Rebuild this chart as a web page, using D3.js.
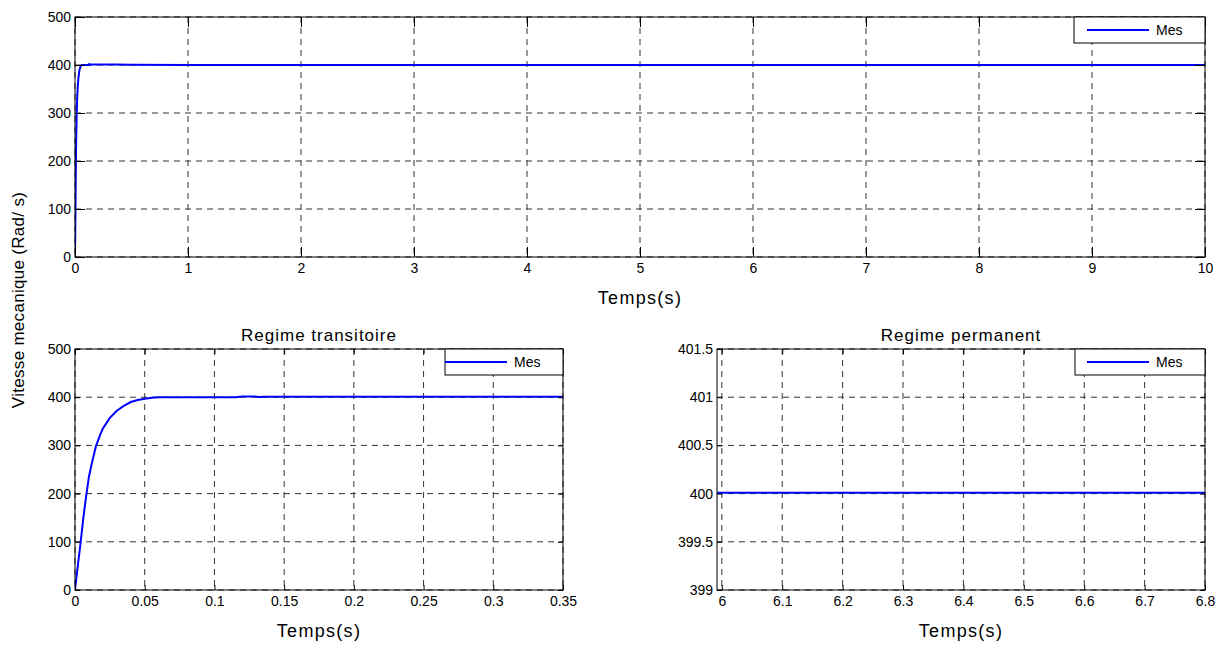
<!DOCTYPE html>
<html>
<head>
<meta charset="utf-8">
<script src="https://cdn.jsdelivr.net/npm/d3@7"></script>
<style>
  body { margin: 0; background: #fff; }
  svg { font-family: "Liberation Sans", Arial, sans-serif; }
  .tick text { font-size: 14px; fill: #000; }
  .domain { display: none; }
</style>
</head>
<body>
<div class="canvas"></div>
<script>
      // transient response (time in s, speed in rad/s)
      const tTrans = [0, 0.002, 0.004, 0.006, 0.008, 0.010, 0.012, 0.015, 0.018, 0.020, 0.025, 0.030,
                      0.035, 0.040, 0.045, 0.050, 0.055, 0.060, 0.080, 0.100, 0.115, 0.120, 0.125,
                      0.129, 0.132, 0.136, 0.150, 0.200, 0.250, 0.300, 0.350];
      const vTrans = [0, 50, 98, 150, 195, 235, 262, 298, 322, 335, 357, 372,
                      382, 390, 394, 397, 399, 400, 400, 400, 400, 401.5, 401.5,
                      401.5, 400.2, 401, 401, 401, 401, 401, 401];

      // steady state response
      const tPerm = [0, 0.5, 1, 2, 3, 4, 5, 5.99, 6, 6.2, 6.4, 6.6, 6.8, 7, 8, 9, 10];
      const vPerm = [401, 400.5, 400.2, 400.05, 400.02, 400.01, 400.01, 400.01, 400.01, 400.01,
                     400.01, 400.01, 400.01, 400.01, 400.01, 400.01, 400.01];

      // tick labels
      const xTicksFull = [0, 1, 2, 3, 4, 5, 6, 7, 8, 9, 10];
      const yTicksFull = [0, 100, 200, 300, 400, 500];
      const xTicksTrans = [0, 0.05, 0.1, 0.15, 0.2, 0.25, 0.3, 0.35];
      const xTicksPerm = [6, 6.1, 6.2, 6.3, 6.4, 6.5, 6.6, 6.7, 6.8];
      const yTicksPerm = [399, 399.5, 400, 400.5, 401, 401.5];

      const legendLabel = 'Mes';

      const svg = d3.select('.canvas')
        .append('svg')
        .attr('width', 1231)
        .attr('height', 645);

      // full record = transient then steady part
      const fullData = tTrans.map((t, i) => ({ t: t, v: vTrans[i] }))
        .concat(tPerm.filter(t => t > 0.35).map(t => ({ t: t, v: vPerm[tPerm.indexOf(t)] })));
      const transData = tTrans.map((t, i) => ({ t: t, v: vTrans[i] }));
      const permData = tPerm.map((t, i) => ({ t: t, v: vPerm[i] }));

      const panel = (cfg) => {
        const w = cfg.right - cfg.left;
        const h = cfg.bottom - cfg.top;

        const g = svg.append('g')
          .attr('transform', `translate(${cfg.left}, ${cfg.top})`);

        const x = d3.scaleLinear().domain(cfg.xdom).range([0, w]);
        const y = d3.scaleLinear().domain(cfg.ydom).range([h, 0]);

        // grid
        g.append('g').selectAll('line')
          .data(cfg.xticks)
          .enter().append('line')
            .attr('x1', d => x(d)).attr('x2', d => x(d))
            .attr('y1', 0).attr('y2', h)
            .attr('stroke', '#333')
            .attr('stroke-width', 1)
            .attr('stroke-dasharray', '6,5');

        g.append('g').selectAll('line')
          .data(cfg.yticks)
          .enter().append('line')
            .attr('x1', 0).attr('x2', w)
            .attr('y1', d => y(d)).attr('y2', d => y(d))
            .attr('stroke', '#333')
            .attr('stroke-width', 1)
            .attr('stroke-dasharray', '6,5');

        // data line
        const line = d3.line()
          .x(d => x(d.t))
          .y(d => y(d.v));

        const clipId = 'clip' + cfg.id;
        g.append('clipPath').attr('id', clipId)
          .append('rect').attr('width', w).attr('height', h);

        g.append('path')
          .datum(cfg.data)
          .attr('clip-path', `url(#${clipId})`)
          .attr('fill', 'none')
          .attr('stroke', '#0000ff')
          .attr('stroke-width', 2)
          .attr('d', line);

        // axes (ticks inside, matlab style)
        const ts = cfg.tick;
        g.append('g')
          .attr('transform', `translate(0, ${h})`)
          .call(d3.axisBottom(x).tickValues(cfg.xticks).tickSize(-ts).tickPadding(6).tickFormat(d => d));
        g.append('g')
          .call(d3.axisTop(x).tickValues(cfg.xticks).tickSize(-ts).tickFormat(''));
        g.append('g')
          .call(d3.axisLeft(y).tickValues(cfg.yticks).tickSize(-ts).tickPadding(4).tickFormat(d => d));
        g.append('g')
          .attr('transform', `translate(${w}, 0)`)
          .call(d3.axisRight(y).tickValues(cfg.yticks).tickSize(-ts).tickFormat(''));

        g.selectAll('.tick line').attr('stroke', '#000');

        // box
        g.append('rect')
          .attr('width', w).attr('height', h)
          .attr('fill', 'none')
          .attr('stroke', '#000')
          .attr('stroke-width', 1);

        // x label
        g.append('text')
          .attr('x', w / 2)
          .attr('y', h + 47)
          .attr('text-anchor', 'middle')
          .attr('font-size', 18)
          .attr('letter-spacing', 1.3)
          .text('Temps(s)');

        // title
        if (cfg.title) {
          g.append('text')
            .attr('x', w / 2)
            .attr('y', -8)
            .attr('text-anchor', 'middle')
            .attr('font-size', 17)
            .attr('letter-spacing', 1)
            .text(cfg.title);
        }

        // legend
        const lg = g.append('g')
          .attr('transform', `translate(${w - cfg.legW}, 0)`);
        lg.append('rect')
          .attr('width', cfg.legW).attr('height', 26)
          .attr('fill', '#fff')
          .attr('stroke', '#000');
        lg.append('line')
          .attr('x1', cfg.legW - 118).attr('x2', cfg.legW - 56)
          .attr('y1', 13).attr('y2', 13)
          .attr('stroke', '#0000ff')
          .attr('stroke-width', 2);
        lg.append('text')
          .attr('x', cfg.legW - 49)
          .attr('y', 18)
          .attr('font-size', 14)
          .text(legendLabel);
      };

      panel({ id: 1, left: 75, right: 1205, top: 17, bottom: 257, xdom: [0, 10], ydom: [0, 500],
              xticks: xTicksFull, yticks: yTicksFull, data: fullData, tick: 10, legW: 131 });

      panel({ id: 2, left: 75, right: 563, top: 349, bottom: 590, xdom: [0, 0.35], ydom: [0, 500],
              xticks: xTicksTrans, yticks: yTicksFull, data: transData, tick: 5, legW: 118,
              title: 'Regime transitoire' });

      panel({ id: 3, left: 717, right: 1205, top: 349, bottom: 590, xdom: [5.992, 6.8], ydom: [399, 401.5],
              xticks: xTicksPerm, yticks: yTicksPerm, data: permData, tick: 5, legW: 130,
              title: 'Regime permanent' });

      // shared y label
      svg.append('text')
        .attr('transform', 'translate(24, 300) rotate(-90)')
        .attr('text-anchor', 'middle')
        .attr('font-size', 17)
        .attr('letter-spacing', 0.3)
        .text('Vitesse mecanique (Rad/ s)');
</script>
</body>
</html>
